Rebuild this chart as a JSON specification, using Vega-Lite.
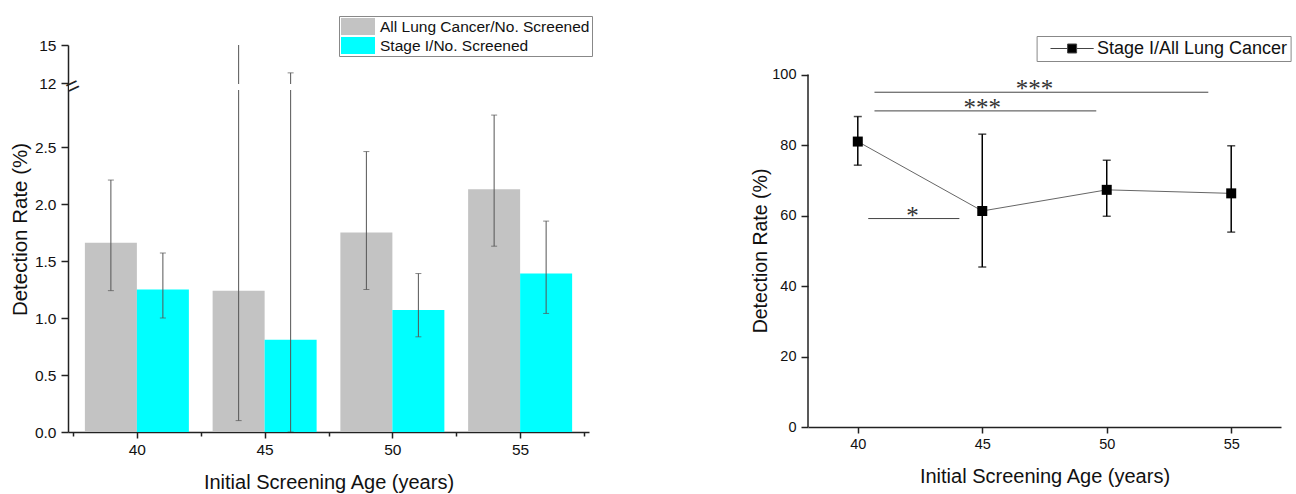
{
  "$schema": "https://vega.github.io/schema/vega-lite/v6.json",
  "autosize": {"type": "pad"},
  "padding": {"left": 10, "top": 15, "right": 5, "bottom": 0},
  "background": "white",
  "datasets": {
    "bars": [
      {"age": 40, "series": "All Lung Cancer/No. Screened", "rate": 1.66, "lo": 1.24, "hi": 2.21},
      {"age": 45, "series": "All Lung Cancer/No. Screened", "rate": 1.24, "lo": 0.10, "hi": 17},
      {"age": 50, "series": "All Lung Cancer/No. Screened", "rate": 1.75, "lo": 1.25, "hi": 2.46},
      {"age": 55, "series": "All Lung Cancer/No. Screened", "rate": 2.13, "lo": 1.63, "hi": 2.78},
      {"age": 40, "series": "Stage I/No. Screened", "rate": 1.25, "lo": 1.00, "hi": 1.57},
      {"age": 45, "series": "Stage I/No. Screened", "rate": 0.81, "lo": 0, "hi": 12.8},
      {"age": 50, "series": "Stage I/No. Screened", "rate": 1.07, "lo": 0.835, "hi": 1.39},
      {"age": 55, "series": "Stage I/No. Screened", "rate": 1.39, "lo": 1.04, "hi": 1.85}
    ],
    "ratio": [
      {"age": 40, "ratio": 81.0, "lo": 74.3, "hi": 88.1},
      {"age": 45, "ratio": 61.3, "lo": 45.4, "hi": 83.1},
      {"age": 50, "ratio": 67.3, "lo": 59.8, "hi": 75.7},
      {"age": 55, "ratio": 66.3, "lo": 55.3, "hi": 79.8}
    ],
    "sig": [
      {"from": 40.67, "to": 54.08, "mid": 47.1, "level": 95.0, "stars": "***"},
      {"from": 40.67, "to": 49.58, "mid": 45.0, "level": 89.7, "stars": "***"},
      {"from": 40.42, "to": 44.08, "mid": 42.2, "level": 59.15, "stars": "*"}
    ]
  },
  "config": {
    "font": "Liberation Sans",
    "view": {"stroke": null},
    "axis": {
      "labelFont": "Liberation Sans", "titleFont": "Liberation Sans",
      "labelFontSize": 15.5, "labelColor": "#111", "titleColor": "#111",
      "titleFontSize": 20, "titleFontWeight": "normal",
      "domainColor": "#222", "domainWidth": 1.5,
      "tickColor": "#222", "tickWidth": 1.5, "labelPadding": 5, "grid": false
    },
    "legend": {"labelFont": "Liberation Sans", "labelColor": "#111"}
  },
  "bounds": "flush",
  "spacing": 219,
  "resolve": {"scale": {"color": "independent"}, "legend": {"color": "independent"}},
  "hconcat": [
    {
      "width": 521,
      "height": 387,
      "data": {"name": "bars"},
      "encoding": {
        "x": {"field": "age", "type": "quantitative", "title": "Initial Screening Age (years)",
          "scale": {"domain": [37.5, 57.5], "nice": false, "zero": false}}
      },
      "layer": [
        {
          "transform": [{"filter": "datum.series == 'All Lung Cancer/No. Screened'"}],
          "mark": {"type": "bar", "width": 52, "xOffset": -26},
          "encoding": {
            "x": {"field": "age", "type": "quantitative", "title": "Initial Screening Age (years)",
              "axis": {"values": [37.5, 40, 42.5, 45, 47.5, 50, 52.5, 55, 57.5],
                "labelExpr": "datum.value % 5 == 0 ? datum.label : ''",
                "tickSize": {"condition": {"test": "datum.value % 5 == 0", "value": 6}, "value": 4},
                "labelPadding": 4, "titlePadding": 15}},
            "y": {"field": "rate", "type": "quantitative", "title": "Detection Rate (%)",
              "scale": {"domain": [0, 3, 12, 15], "range": [387, 45, 38, 0], "nice": false, "zero": false},
              "axis": {"values": [0, 0.25, 0.5, 0.75, 1, 1.25, 1.5, 1.75, 2, 2.25, 2.5, 2.75, 12, 13.5, 15],
                "labelExpr": "(datum.value == 12 || datum.value == 15) ? datum.label : ((datum.value < 3 && datum.value % 0.5 == 0) ? format(datum.value, '.1f') : '')",
                "tickSize": {"condition": {"test": "(datum.value < 3 && datum.value % 0.5 == 0) || datum.value == 12 || datum.value == 15", "value": 7}, "value": 3.5},
                "titleFontSize": 20.5, "titleX": -38, "titleY": 184}},
            "color": {"field": "series", "type": "nominal",
              "scale": {"domain": ["All Lung Cancer/No. Screened", "Stage I/No. Screened"], "range": ["#C3C3C3", "#00FFFF"]},
              "legend": {"title": null, "orient": "none", "legendX": 271, "legendY": -29,
                "symbolType": "M-2,-1H2V1H-2Z", "symbolSize": 289, "symbolOffset": 8.5, "labelOffset": 13.5,
                "labelFontSize": 15.5, "padding": 2, "rowPadding": 2, "strokeColor": "#888", "fillColor": "#ffffff",
                "symbolStrokeWidth": 0, "labelLimit": 300}}
          }
        },
        {
          "transform": [{"filter": "datum.series == 'Stage I/No. Screened'"}],
          "mark": {"type": "bar", "width": 52, "xOffset": 26},
          "encoding": {
            "y": {"field": "rate", "type": "quantitative", "title": "Detection Rate (%)"},
            "color": {"field": "series", "type": "nominal"}
          }
        },
        {
          "transform": [{"filter": "datum.series == 'All Lung Cancer/No. Screened'"}],
          "mark": {"type": "rule", "clip": true, "color": "#555", "strokeWidth": 1, "xOffset": -26},
          "encoding": {
            "y": {"field": "lo", "type": "quantitative", "title": "Detection Rate (%)"},
            "y2": {"field": "hi"}
          }
        },
        {
          "transform": [{"filter": "datum.series == 'Stage I/No. Screened'"}],
          "mark": {"type": "rule", "clip": true, "color": "#555", "strokeWidth": 1, "xOffset": 26},
          "encoding": {
            "y": {"field": "lo", "type": "quantitative", "title": "Detection Rate (%)"},
            "y2": {"field": "hi"}
          }
        },
        {
          "transform": [{"filter": "datum.series == 'All Lung Cancer/No. Screened'"}, {"fold": ["lo", "hi"], "as": ["end", "val"]}],
          "mark": {"type": "tick", "orient": "horizontal", "clip": true, "color": "#555", "size": 6, "thickness": 1, "xOffset": -26},
          "encoding": {"y": {"field": "val", "type": "quantitative", "title": "Detection Rate (%)"}}
        },
        {
          "transform": [{"filter": "datum.series == 'Stage I/No. Screened'"}, {"fold": ["lo", "hi"], "as": ["end", "val"]}],
          "mark": {"type": "tick", "orient": "horizontal", "clip": true, "color": "#555", "size": 6, "thickness": 1, "xOffset": 26},
          "encoding": {"y": {"field": "val", "type": "quantitative", "title": "Detection Rate (%)"}}
        },
        {
          "data": {"values": [{"from": 37.5, "to": 57.5, "lowEdge": 3, "highEdge": 12}]},
          "mark": {"type": "rect", "color": "#ffffff", "xOffset": -4, "y2Offset": 1},
          "encoding": {
            "x": {"field": "from", "type": "quantitative", "title": "Initial Screening Age (years)"},
            "x2": {"field": "to"},
            "y": {"field": "lowEdge", "type": "quantitative", "title": "Detection Rate (%)"},
            "y2": {"field": "highEdge"}
          }
        },
        {
          "data": {"values": [{"sym": "=", "at": 37.5, "level": 7.5}]},
          "mark": {"type": "text", "angle": -25, "fontSize": 23, "color": "#222", "baseline": "middle", "align": "center"},
          "encoding": {
            "x": {"field": "at", "type": "quantitative", "title": "Initial Screening Age (years)"},
            "y": {"field": "level", "type": "quantitative", "title": "Detection Rate (%)"},
            "text": {"field": "sym"}
          }
        }
      ]
    },
    {
      "width": 473,
      "height": 382,
      "encoding": {
        "x": {"field": "age", "type": "quantitative", "title": "Initial Screening Age (years)",
          "scale": {"domain": [38, 57], "nice": false, "zero": false}}
      },
      "layer": [
        {
          "data": {"values": [{"at": 38, "bottom": 0, "top": 100}]},
          "mark": {"type": "rule", "color": "#222", "strokeWidth": 1.5},
          "encoding": {
            "x": {"field": "at", "type": "quantitative", "title": "Initial Screening Age (years)"},
            "y": {"field": "bottom", "type": "quantitative", "title": "Detection Rate (%)"},
            "y2": {"field": "top"}
          }
        },
        {
          "data": {"name": "sig"},
          "mark": {"type": "rule", "color": "#444", "strokeWidth": 1},
          "encoding": {
            "x": {"field": "from", "type": "quantitative", "title": "Initial Screening Age (years)"},
            "x2": {"field": "to"},
            "y": {"field": "level", "type": "quantitative", "title": "Detection Rate (%)"}
          }
        },
        {
          "data": {"name": "sig"},
          "mark": {"type": "text", "font": "Liberation Serif", "fontSize": 25, "color": "#333", "baseline": "alphabetic", "align": "center", "dy": 5},
          "encoding": {
            "x": {"field": "mid", "type": "quantitative", "title": "Initial Screening Age (years)"},
            "y": {"field": "level", "type": "quantitative", "title": "Detection Rate (%)"},
            "text": {"field": "stars"}
          }
        },
        {
          "data": {"name": "ratio"},
          "mark": {"type": "line", "color": "#666", "strokeWidth": 1},
          "encoding": {
            "x": {"field": "age", "type": "quantitative", "title": "Initial Screening Age (years)",
              "axis": {"values": [40, 45, 50, 55], "tickSize": 6, "labelPadding": 4, "titlePadding": 16, "labelFontSize": 14.5}},
            "y": {"field": "ratio", "type": "quantitative", "title": "Detection Rate (%)",
              "scale": {"domain": [0, 108.4], "nice": false},
              "axis": {"values": [0, 10, 20, 30, 40, 50, 60, 70, 80, 90, 100],
                "labelExpr": "datum.value % 20 == 0 ? datum.label : ''",
                "tickSize": {"condition": {"test": "datum.value % 20 == 0", "value": 7}, "value": 3.5},
                "labelFontSize": 14.5,
                "domain": false, "titleFontSize": 19.5, "titleX": -38, "titleY": 205.5}}
          }
        },
        {
          "data": {"name": "ratio"},
          "mark": {"type": "rule", "color": "#000", "strokeWidth": 1.5},
          "encoding": {
            "y": {"field": "lo", "type": "quantitative", "title": "Detection Rate (%)"},
            "y2": {"field": "hi"}
          }
        },
        {
          "data": {"name": "ratio"},
          "transform": [{"fold": ["lo", "hi"], "as": ["end", "val"]}],
          "mark": {"type": "tick", "orient": "horizontal", "color": "#000", "size": 8, "thickness": 1.5},
          "encoding": {"y": {"field": "val", "type": "quantitative", "title": "Detection Rate (%)"}}
        },
        {
          "data": {"name": "ratio"},
          "mark": {"type": "point", "shape": "square", "filled": true, "size": 100, "opacity": 1},
          "encoding": {
            "y": {"field": "ratio", "type": "quantitative", "title": "Detection Rate (%)"},
            "color": {"datum": "Stage I/All Lung Cancer", "type": "nominal",
              "scale": {"range": ["#000000"]},
              "legend": {"title": null, "orient": "none", "legendX": 228.6, "legendY": -9,
                "symbolType": "M-2.4,0H-0.5M0.5,0H2.4M-0.5,-0.5H0.5V0.5H-0.5Z", "symbolSize": 324,
                "symbolOffset": 23, "labelOffset": 15.4, "labelFontSize": 18, "padding": 3,
                "strokeColor": "#888", "fillColor": "#ffffff", "symbolStrokeColor": "#444",
                "symbolStrokeWidth": 1, "symbolFillColor": "#000", "labelLimit": 300}}
          }
        }
      ]
    }
  ]
}
